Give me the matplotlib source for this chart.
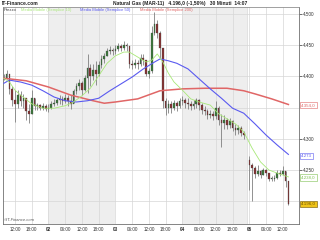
import numpy as np
import matplotlib
matplotlib.use("Agg")
import matplotlib.pyplot as plt

plt.rcParams["font.family"] = ["Liberation Sans", "DejaVu Sans"]

# hourly candles, hour counted from day 01 00:00 (weekend removed after hour 94)
hours = [8, 9, 10, 11, 12, 13, 14, 15, 16, 17, 18, 19, 20, 21, 22, 23,
         24, 25, 26, 27, 28, 29, 30, 31, 32, 33, 34, 35, 36, 37, 38, 39,
         40, 41, 42, 43, 44, 45, 46, 47, 48, 49, 50, 51, 52, 53, 54, 55,
         56, 57, 58, 59, 60, 61, 62, 63, 64, 65, 66, 67, 68, 69, 70, 71,
         72, 73, 74, 75, 76, 77, 78, 79, 80, 81, 82, 83, 84, 85, 86, 87,
         88, 89, 90, 91, 92, 93, 94,
         96, 97, 98, 99, 100, 101, 102, 103, 104, 105, 106, 107, 108, 109, 110]
opens = [4.396, 4.398, 4.404, 4.380, 4.362, 4.356, 4.370, 4.360, 4.366, 4.345, 4.340, 4.366, 4.352, 4.354, 4.350, 4.352,
         4.348, 4.350, 4.356, 4.358, 4.362, 4.364, 4.360, 4.366, 4.360, 4.356, 4.376, 4.384, 4.390, 4.378, 4.398, 4.414,
         4.400, 4.410, 4.404, 4.418, 4.428, 4.432, 4.440, 4.442, 4.440, 4.444, 4.448, 4.446, 4.450, 4.448, 4.420, 4.418,
         4.422, 4.420, 4.430, 4.426, 4.404, 4.408, 4.470, 4.484, 4.470, 4.446, 4.360, 4.350, 4.356, 4.350, 4.358, 4.352,
         4.360, 4.362, 4.358, 4.356, 4.352, 4.356, 4.362, 4.354, 4.346, 4.344, 4.338, 4.340, 4.336, 4.350, 4.330, 4.326,
         4.330, 4.322, 4.328, 4.318, 4.314, 4.318, 4.310,
         4.266, 4.258, 4.254, 4.244, 4.248, 4.242, 4.250, 4.246, 4.236, 4.236, 4.238, 4.246, 4.244, 4.248, 4.232]
closes = [4.398, 4.404, 4.380, 4.362, 4.356, 4.370, 4.360, 4.366, 4.345, 4.340, 4.366, 4.352, 4.354, 4.350, 4.352, 4.348,
          4.350, 4.356, 4.358, 4.362, 4.364, 4.360, 4.366, 4.360, 4.356, 4.376, 4.384, 4.390, 4.378, 4.398, 4.414, 4.400,
          4.410, 4.404, 4.418, 4.428, 4.432, 4.440, 4.442, 4.440, 4.444, 4.448, 4.446, 4.450, 4.448, 4.420, 4.418, 4.422,
          4.420, 4.430, 4.426, 4.404, 4.408, 4.470, 4.484, 4.470, 4.446, 4.360, 4.350, 4.356, 4.350, 4.358, 4.352, 4.360,
          4.362, 4.358, 4.356, 4.352, 4.356, 4.362, 4.354, 4.346, 4.344, 4.338, 4.340, 4.336, 4.350, 4.330, 4.326, 4.330,
          4.322, 4.328, 4.318, 4.314, 4.318, 4.310, 4.306,
          4.258, 4.254, 4.244, 4.248, 4.242, 4.250, 4.246, 4.236, 4.236, 4.238, 4.246, 4.244, 4.248, 4.232, 4.196]
highs = [4.404, 4.410, 4.404, 4.384, 4.378, 4.378, 4.376, 4.372, 4.366, 4.356, 4.378, 4.366, 4.358, 4.356, 4.358, 4.356,
         4.356, 4.360, 4.364, 4.366, 4.370, 4.368, 4.372, 4.370, 4.370, 4.380, 4.390, 4.396, 4.392, 4.402, 4.436, 4.420,
         4.420, 4.424, 4.424, 4.434, 4.438, 4.446, 4.448, 4.446, 4.450, 4.454, 4.452, 4.456, 4.454, 4.448, 4.426, 4.428,
         4.426, 4.436, 4.436, 4.426, 4.414, 4.480, 4.503, 4.490, 4.472, 4.440, 4.366, 4.362, 4.360, 4.362, 4.360, 4.366,
         4.368, 4.366, 4.366, 4.360, 4.362, 4.366, 4.364, 4.358, 4.352, 4.348, 4.346, 4.344, 4.360, 4.352, 4.340, 4.338,
         4.334, 4.334, 4.330, 4.324, 4.322, 4.320, 4.312,
         4.272, 4.262, 4.256, 4.258, 4.250, 4.254, 4.252, 4.246, 4.240, 4.242, 4.250, 4.250, 4.256, 4.248, 4.232]
lows = [4.394, 4.396, 4.372, 4.352, 4.327, 4.350, 4.352, 4.350, 4.330, 4.325, 4.340, 4.346, 4.346, 4.346, 4.346, 4.344,
        4.343, 4.348, 4.352, 4.354, 4.356, 4.354, 4.358, 4.352, 4.348, 4.358, 4.372, 4.378, 4.370, 4.376, 4.374, 4.384,
        4.394, 4.386, 4.400, 4.414, 4.422, 4.432, 4.436, 4.434, 4.436, 4.440, 4.440, 4.442, 4.440, 4.414, 4.412, 4.414,
        4.412, 4.416, 4.418, 4.400, 4.398, 4.406, 4.466, 4.462, 4.430, 4.350, 4.338, 4.342, 4.342, 4.346, 4.344, 4.350,
        4.354, 4.350, 4.348, 4.346, 4.348, 4.350, 4.346, 4.340, 4.338, 4.332, 4.334, 4.330, 4.332, 4.322, 4.287, 4.316,
        4.316, 4.318, 4.312, 4.306, 4.308, 4.304, 4.300,
        4.218, 4.200, 4.238, 4.240, 4.238, 4.242, 4.240, 4.232, 4.232, 4.232, 4.236, 4.240, 4.242, 4.222, 4.194]

# moving averages
ma10_h = [8, 10, 12, 14, 18, 22, 26, 30, 33, 36, 39, 42, 45, 48, 51, 53, 56, 59, 61, 63, 65, 67, 69,
          72, 75, 78, 82, 85, 88, 91, 94, 97, 100, 103, 106, 110]
ma10 = [4.397, 4.391, 4.378, 4.370, 4.356, 4.349, 4.349, 4.353, 4.359, 4.369, 4.381, 4.401, 4.421, 4.433,
        4.439, 4.439, 4.431, 4.423, 4.426, 4.436, 4.423, 4.405, 4.391, 4.378, 4.364, 4.359, 4.354, 4.340,
        4.332, 4.324, 4.311, 4.285, 4.263, 4.250, 4.245, 4.239]
ma50_h = [8, 10, 14, 18, 22, 26, 30, 34, 38, 42, 46, 50, 54, 58, 62, 64, 67, 70, 74, 78, 82, 86, 90,
          94, 98, 102, 106, 110]
ma50 = [4.389, 4.394, 4.391, 4.386, 4.377, 4.367, 4.361, 4.359, 4.361, 4.365, 4.377, 4.388, 4.399, 4.412,
        4.423, 4.428, 4.425, 4.421, 4.412, 4.396, 4.380, 4.365, 4.349, 4.341, 4.324, 4.306, 4.290, 4.275]
ma200_h = [8, 16, 24, 32, 40, 44, 48, 56, 64, 72, 80, 88, 94, 98, 104, 110]
ma200 = [4.397, 4.393, 4.383, 4.370, 4.361, 4.357, 4.359, 4.364, 4.377, 4.380, 4.381, 4.381, 4.377,
         4.372, 4.364, 4.355]

tick_hours = [12, 18, 24, 30, 36, 42, 48, 54, 60, 66, 72, 78, 84, 90, 96, 102, 108]
tick_labels = ["12:00", "18:00", "02", "06:00", "12:00", "18:00", "03", "06:00", "12:00",
               "18:00", "04", "06:00", "12:00", "18:00", "06", "06:00", "12:00"]
day_labels = ["02", "03", "04", "06"]
price_ticks = [4.25, 4.30, 4.40, 4.45, 4.50]

c_green = "#a8e878"
c_blue = "#5a5af0"
c_red = "#e06666"

fig = plt.figure(figsize=(3.2, 2.4), dpi=100)
fig.patch.set_facecolor("white")
ax = fig.add_axes([3 / 320, 16 / 240, 296 / 320, 217 / 240])
ax.set_xlim(7.7, 113.8)
ax.set_ylim(4.1635, 4.5112)

# shaded days
ax.axvspan(24, 48, color="#eeeeee", lw=0, zorder=0)
ax.axvspan(72, 95, color="#eeeeee", lw=0, zorder=0)

for h in tick_hours + [95]:
    ax.axvline(h, color="#d6d6d6", lw=0.5, zorder=1)
for p in np.arange(4.20, 4.51, 0.05):
    ax.axhline(p, color="#d6d6d6", lw=0.5, zorder=1)

# candles
o = np.array(opens)
c = np.array(closes)
up = c >= o
ax.vlines(hours, lows, highs, color="#808080", lw=0.6, zorder=2)
bot = np.minimum(o, c)
ht = np.maximum(np.abs(c - o), 0.0015)
ax.bar(np.array(hours)[up], ht[up], bottom=bot[up], width=0.6, color="#3c7a3c",
       edgecolor="#404040", lw=0.2, zorder=3)
ax.bar(np.array(hours)[~up], ht[~up], bottom=bot[~up], width=0.6, color="#883333",
       edgecolor="#404040", lw=0.2, zorder=3)

ax.plot(ma200_h, ma200, color=c_red, lw=1.1, zorder=4)
ax.plot(ma50_h, ma50, color=c_blue, lw=0.8, zorder=4)
ax.plot(ma10_h, ma10, color=c_green, lw=0.6, zorder=4)

# axes styling
for s in ["top"]:
    ax.spines[s].set_color("#909090")
ax.spines["left"].set_color("#707070")
ax.spines["right"].set_color("#707070")
ax.spines["bottom"].set_color("#707070")
for s in ax.spines.values():
    s.set_linewidth(0.6)

ax.set_xticks(tick_hours)
ax.set_xticklabels(tick_labels)
for lab in ax.get_xticklabels():
    lab.set_fontsize(3.3)
    lab.set_color("#333333")
    if lab.get_text() in day_labels:
        lab.set_fontweight("bold")
ax.tick_params(axis="x", length=0, pad=2)

ax.yaxis.tick_right()
ax.set_yticks(price_ticks)
ax.set_yticklabels([f"{p:.3f}" for p in price_ticks])
ax.tick_params(axis="y", length=2, width=0.5, pad=1, labelsize=3.3, colors="#333333")

# value boxes on the right
boxes = [(4.354, "4.354,0", c_red, "white"),
         (4.273, "4.273", c_blue, "white"),
         (4.238, "4.238,0", "#7cc050", "white"),
         (4.196, "4.196,0", "#6a5000", "#f0c419")]
for val, txt, col, fc in boxes:
    ax.annotate(txt, xy=(1.008, val), xycoords=("axes fraction", "data"), fontsize=3.2,
                color=col, va="center", ha="left",
                bbox=dict(boxstyle="square,pad=0.25", fc=fc, ec=col, lw=0.4))

# header and legend
fig.text(2 / 320, 1 - 3.5 / 240, "IT-Finance.com", fontsize=3.6, fontweight="bold",
         va="center", ha="left", color="#222222")
fig.text(113 / 320, 1 - 3.5 / 240, "Natural Gas (MAR-11)   4.196,0 (-1,50%)   30 Minuti  14:07",
         fontsize=3.6, fontweight="bold", va="center", ha="left", color="#222222")
legend_items = [("Prezzo", "#444444", 4), ("Media Mobile (Semplice 10)", c_green, 21),
                ("Media Mobile (Semplice 50)", c_blue, 80), ("Media Mobile (Semplice 200)", c_red, 140)]
for txt, col, xp in legend_items:
    fig.text(xp / 320, 1 - 10 / 240, txt, fontsize=3.0, color=col, va="center", ha="left")

ax.text(0.003, 0.008, "\u00a9IT-Finance.com", transform=ax.transAxes, fontsize=3.0,
        color="#555555", va="bottom", ha="left", style="italic")

fig.savefig("out.png", dpi=100)
